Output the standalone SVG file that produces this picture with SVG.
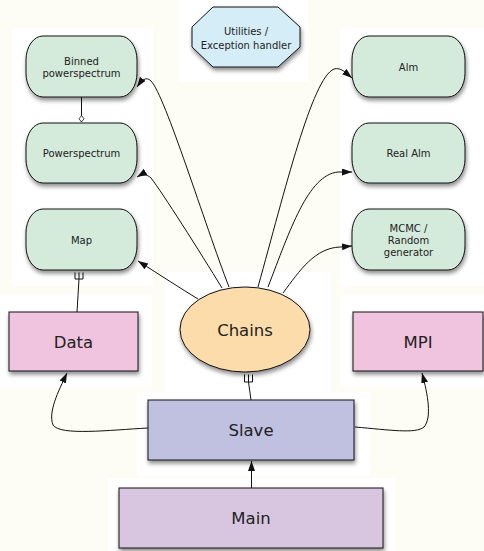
<svg xmlns="http://www.w3.org/2000/svg" width="484" height="551" viewBox="0 0 484 551">
<style>
.sm{font-family:"DejaVu Sans","Verdana",sans-serif;font-size:10px;fill:#222;text-anchor:middle}
.lg{font-family:"DejaVu Sans","Verdana",sans-serif;font-size:16.5px;fill:#222;text-anchor:middle}
.edge{fill:none;stroke:#111;stroke-width:1}
.box{stroke:#111;stroke-width:1}
.green{fill:#d4eadb}
.pink{fill:#f0c3de}
.patch{fill:#ffffff}
</style>
<defs>
<filter id="sh" x="-20%" y="-20%" width="140%" height="150%">
<feDropShadow dx="1" dy="3" stdDeviation="2" flood-color="#000" flood-opacity="0.45"/>
</filter>
<marker id="arr" markerUnits="userSpaceOnUse" markerWidth="11" markerHeight="8" refX="10" refY="3.5" orient="auto">
<path d="M0,0 L10,3.5 L0,7 z" fill="#111"/>
</marker>
<marker id="dia" markerUnits="userSpaceOnUse" markerWidth="8" markerHeight="7" refX="7" refY="3" orient="auto">
<path d="M0.5,3 L3.75,0.5 L7,3 L3.75,5.5 z" fill="#fff" stroke="#111" stroke-width="0.8"/>
</marker>
</defs>
<rect width="484" height="551" fill="#fdfdf5"/>
<g id="patches">
<rect class="patch" x="12" y="28" width="141" height="257"/>
<rect class="patch" x="178" y="0" width="130" height="82"/>
<rect class="patch" x="340" y="28" width="144" height="257"/>
<rect class="patch" x="165" y="272" width="165" height="122"/>
<rect class="patch" x="0" y="295" width="152" height="92"/>
<rect class="patch" x="340" y="295" width="144" height="92"/>
<rect class="patch" x="137" y="392" width="233" height="84"/>
<rect class="patch" x="108" y="478" width="287" height="73"/>
</g>
<g id="connectors">
<path class="edge" d="M81.5,97 L81.5,122" marker-end="url(#dia)"/>
<path class="edge" d="M77,312 L79,279"/>
<path class="edge" d="M75,272.5 L75,279 L83,279 L83,272.5 M79,272.5 L79,279"/>
<path class="edge" d="M251,400 L248.5,382"/>
<path class="edge" d="M244.5,374.5 L244.5,382 L252.5,382 L252.5,374.5 M248.5,374.5 L248.5,382"/>
<path class="edge" d="M251.5,488 L251.5,461" marker-end="url(#arr)"/>
<path class="edge" d="M229,287 C205,225 165,95 151,81 C146,76 142,80 137,87" marker-end="url(#arr)"/>
<path class="edge" d="M222,288 C200,252 162,192 151,178 C147,174 142,174 137,177" marker-end="url(#arr)"/>
<path class="edge" d="M198,299 C180,288 160,275 138,261" marker-end="url(#arr)"/>
<path class="edge" d="M258,287 C285,190 312,78 334,69 C341,67 346,73 352,78" marker-end="url(#arr)"/>
<path class="edge" d="M268,287 C290,230 308,175 338,172 L352,172" marker-end="url(#arr)"/>
<path class="edge" d="M283,293 C300,270 315,248 340,247 L352,246" marker-end="url(#arr)"/>
<path class="edge" d="M148,428 C110,430 60,436 53,425 C48,412 58,392 67,373" marker-end="url(#arr)"/>
<path class="edge" d="M355,427 C390,430 416,434 424,427 C432,418 428,395 422,373" marker-end="url(#arr)"/>
</g>
<g id="utilities">
<polygon class="box" fill="#d5edf7" filter="url(#sh)" points="213,7 278,7 300,27 300,47 278,67 213,67 192,47 192,27"/>
<text class="sm" x="246" y="35">Utilities /</text>
<text class="sm" x="246" y="49">Exception handler</text>
</g>
<g id="binned">
<rect class="box green" filter="url(#sh)" x="26" y="36" width="111" height="61" rx="17" ry="24"/>
<text class="sm" x="81.5" y="65">Binned</text>
<text class="sm" x="81.5" y="77">powerspectrum</text>
</g>
<g id="powerspectrum">
<rect class="box green" filter="url(#sh)" x="26" y="123" width="111" height="60" rx="17" ry="24"/>
<text class="sm" x="81.5" y="157">Powerspectrum</text>
</g>
<g id="map">
<rect class="box green" filter="url(#sh)" x="26" y="209" width="111" height="61" rx="17" ry="24"/>
<text class="sm" x="81.5" y="244">Map</text>
</g>
<g id="alm">
<rect class="box green" filter="url(#sh)" x="352" y="36" width="113" height="61" rx="17" ry="24"/>
<text class="sm" x="408.5" y="70.5">Alm</text>
</g>
<g id="realalm">
<rect class="box green" filter="url(#sh)" x="352" y="123" width="113" height="60" rx="17" ry="24"/>
<text class="sm" x="408.5" y="157">Real Alm</text>
</g>
<g id="mcmc">
<rect class="box green" filter="url(#sh)" x="352" y="209" width="113" height="61" rx="17" ry="24"/>
<text class="sm" x="408.5" y="231.5">MCMC /</text>
<text class="sm" x="408.5" y="243.5">Random</text>
<text class="sm" x="408.5" y="255.5">generator</text>
</g>
<g id="chains">
<ellipse class="box" fill="#fddcab" filter="url(#sh)" cx="245" cy="329.5" rx="65" ry="42.5"/>
<text class="lg" x="245" y="336">Chains</text>
</g>
<g id="data">
<rect class="box pink" filter="url(#sh)" x="9" y="312" width="129" height="59"/>
<text class="lg" x="73.5" y="348">Data</text>
</g>
<g id="mpi">
<rect class="box pink" filter="url(#sh)" x="353" y="312" width="130" height="59"/>
<text class="lg" x="418" y="348">MPI</text>
</g>
<g id="slave">
<rect class="box" fill="#c0c0e0" filter="url(#sh)" x="148" y="400" width="206" height="60"/>
<text class="lg" x="251" y="436">Slave</text>
</g>
<g id="main">
<rect class="box" fill="#d8c6e1" filter="url(#sh)" x="119" y="488" width="264" height="60"/>
<text class="lg" x="251" y="524">Main</text>
</g>
</svg>
